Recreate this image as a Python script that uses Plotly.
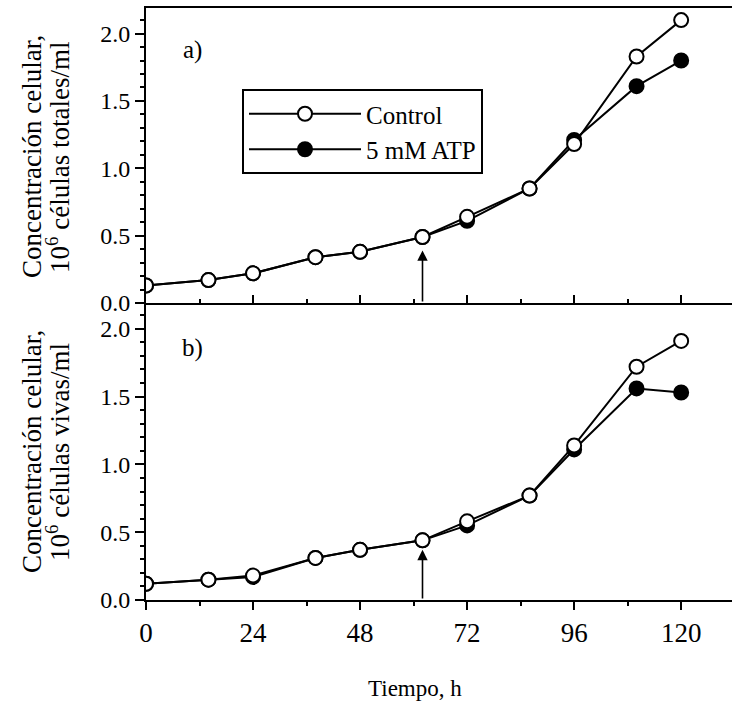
#### Import Modules ####
import plotly.graph_objects as go
from plotly.subplots import make_subplots


#### Data ####
tiempo = [0, 14, 24, 38, 48, 62, 72, 86, 96, 110, 120]

# a) total cells, 10^6 cells/ml
totales_control = [0.13, 0.17, 0.22, 0.34, 0.38, 0.49, 0.64, 0.85, 1.18, 1.83, 2.10]
totales_atp = [0.13, 0.17, 0.22, 0.34, 0.38, 0.49, 0.61, 0.85, 1.21, 1.61, 1.80]

# b) viable cells, 10^6 cells/ml
vivas_control = [0.12, 0.15, 0.18, 0.31, 0.37, 0.44, 0.58, 0.77, 1.14, 1.72, 1.91]
vivas_atp = [0.12, 0.15, 0.17, 0.31, 0.37, 0.44, 0.55, 0.77, 1.11, 1.56, 1.53]

x_ticks = [0, 24, 48, 72, 96, 120]
y_ticks = [0.0, 0.5, 1.0, 1.5, 2.0]
y_tick_text = ["0.0", "0.5", "1.0", "1.5", "2.0"]

arrow_time = 62
series_names = ["Control", "5 mM ATP"]


#### Build Figure ####
FONT = "Liberation Serif, Times New Roman, serif"
BLACK = "black"
W, H = 732, 708
L, B, T = 146, 108, 8
PW, PH = W - L, H - T - B

fig = make_subplots(rows=2, cols=1, shared_xaxes=True, vertical_spacing=0)

panels = [(1, totales_control, totales_atp), (2, vivas_control, vivas_atp)]
for row, control, atp in panels:
    # ATP drawn first so the open control markers sit on top
    fig.add_trace(go.Scatter(x=tiempo, y=atp, mode="lines+markers", name=series_names[1],
                             line=dict(color=BLACK, width=2),
                             marker=dict(symbol="circle", size=14, color=BLACK,
                                         line=dict(color=BLACK, width=2)),
                             showlegend=(row == 1), legendrank=2),
                  row=row, col=1)
    fig.add_trace(go.Scatter(x=tiempo, y=control, mode="lines+markers", name=series_names[0],
                             line=dict(color=BLACK, width=2),
                             marker=dict(symbol="circle", size=14, color="white",
                                         line=dict(color=BLACK, width=2)),
                             showlegend=(row == 1), legendrank=1),
                  row=row, col=1)

# Arrows marking ATP addition
for xr, yr, tip in [("x", "y", 0.39), ("x2", "y2", 0.37)]:
    fig.add_annotation(x=arrow_time, y=tip, ax=arrow_time, ay=0, xref=xr, yref=yr,
                       axref=xr, ayref=yr, showarrow=True, arrowhead=2, arrowsize=1.3,
                       arrowwidth=1.6, arrowcolor=BLACK, text="")

# Panel labels
fig.add_annotation(x=10.5, y=1.88, xref="x", yref="y", text="a)", showarrow=False,
                   font=dict(size=25, family=FONT, color=BLACK))
fig.add_annotation(x=10.5, y=1.86, xref="x2", yref="y2", text="b)", showarrow=False,
                   font=dict(size=25, family=FONT, color=BLACK))

# Rotated y titles, one line each so spacing can follow the reference
y_titles = [
    ("Concentración celular,", 32, 157),
    ("10<sup>6</sup> células totales/ml", 58, 157),
    ("Concentración celular,", 32, 452),
    ("10<sup>6</sup> células vivas/ml", 58, 452),
]
for txt, xpix, ypix in y_titles:
    fig.add_annotation(x=(xpix - L) / PW, y=(H - B - ypix) / PH, xref="paper", yref="paper",
                       xanchor="center", yanchor="middle", text=txt, textangle=-90,
                       showarrow=False, font=dict(size=27, family=FONT, color=BLACK))

# x title
fig.add_annotation(x=(415 - L) / PW, y=(H - B - 688) / PH, xref="paper", yref="paper",
                   text="Tiempo, h", showarrow=False, xanchor="center", yanchor="middle",
                   font=dict(size=23, family=FONT, color=BLACK))

axis_common = dict(showline=True, linecolor=BLACK, linewidth=2, showgrid=False,
                   zeroline=False, tickcolor=BLACK, tickwidth=1.5, automargin=False)

fig.update_xaxes(range=[0, 131.4], tickvals=x_ticks, **axis_common)
fig.update_xaxes(row=1, col=1, ticks="inside", ticklen=8, showticklabels=False, mirror=True,
                 minor=dict(dtick=12, tick0=0, ticks="inside", ticklen=4, tickcolor=BLACK))
fig.update_xaxes(row=2, col=1, ticks="outside", ticklen=8,
                 tickfont=dict(size=27, family=FONT, color=BLACK),
                 minor=dict(dtick=12, tick0=0, ticks="outside", ticklen=4, tickcolor=BLACK))

fig.update_yaxes(range=[0, 2.19], tickvals=y_ticks, ticktext=y_tick_text, ticks="outside",
                 ticklen=9, tickfont=dict(size=24, family=FONT, color=BLACK),
                 minor=dict(dtick=0.1, tick0=0, ticks="outside", ticklen=4, tickcolor=BLACK),
                 **axis_common)
fig.update_yaxes(row=1, col=1, domain=[0.5017, 1])
fig.update_yaxes(row=2, col=1, domain=[0, 0.5017])

fig.update_layout(width=W, height=H,
                  margin=dict(l=L, r=0, t=T, b=B),
                  paper_bgcolor="white", plot_bgcolor="white",
                  font=dict(family=FONT, color=BLACK),
                  legend=dict(x=(242 - L) / PW, y=(H - B - 89) / PH,
                              xanchor="left", yanchor="top",
                              bordercolor=BLACK, borderwidth=2, bgcolor="white",
                              font=dict(size=25, family=FONT, color=BLACK),
                              itemwidth=112, tracegroupgap=0),
                  showlegend=True)

# page has a default 8px body margin; drop it so the figure fills the window
fig.write_html("out.html", config={"displayModeBar": False},
               post_script="document.body.style.margin='0px';")
